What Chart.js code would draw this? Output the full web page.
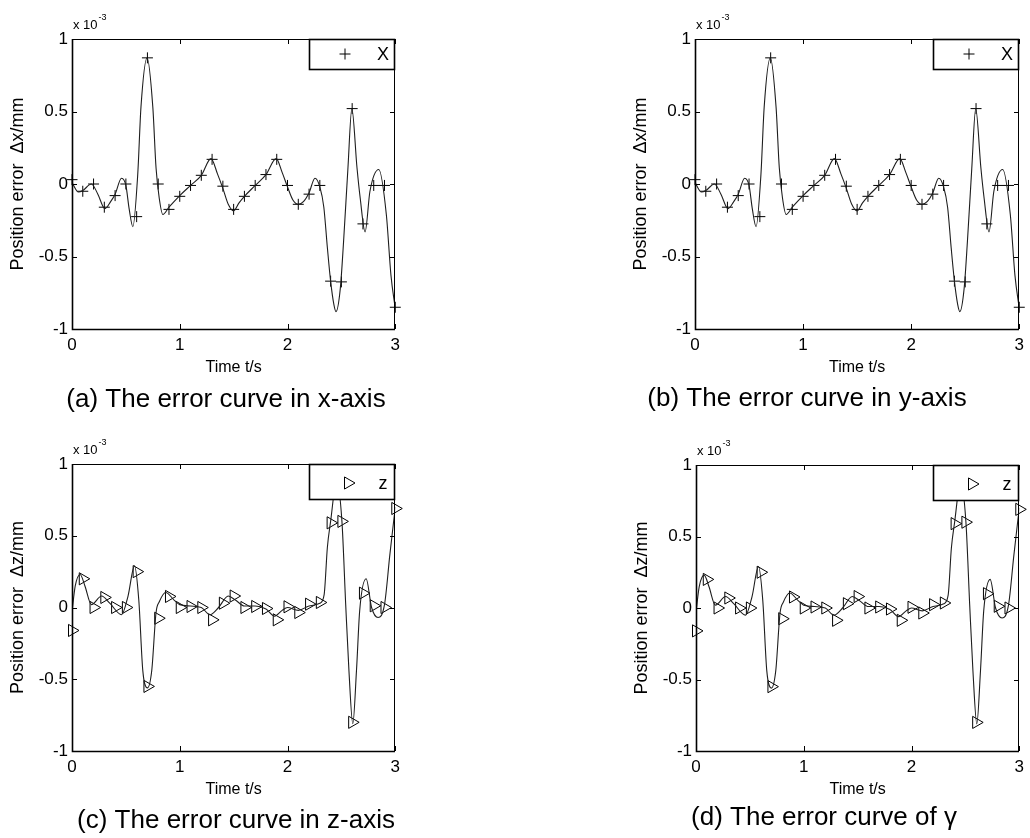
<!DOCTYPE html>
<html><head><meta charset="utf-8">
<script src="https://cdn.jsdelivr.net/npm/chart.js@4.4.1/dist/chart.umd.min.js"></script>
<style>
html,body{margin:0;padding:0;background:#fff;overflow:hidden;width:1030px;height:838px;position:relative;}
canvas{position:absolute;}
</style></head><body>
<canvas id="pa"></canvas><canvas id="pb"></canvas><canvas id="pc"></canvas><canvas id="pd"></canvas>
<script>
// ---- data (values in units of 1e-3 mm) ----
const markerTimes = [0,0.1,0.2,0.3,0.4,0.5,0.6,0.7,0.8,0.9,1.0,1.1,1.2,1.3,1.4,1.5,1.6,1.7,1.8,1.9,2.0,2.1,2.2,2.3,2.4,2.5,2.6,2.7,2.8,2.9,3.0];
const markerX = [0.03,-0.05,0.0,-0.16,-0.08,0.0,-0.225,0.87,0.0,-0.175,-0.085,-0.01,0.06,0.17,-0.015,-0.175,-0.085,-0.01,0.065,0.17,-0.01,-0.14,-0.07,-0.01,-0.67,-0.675,0.52,-0.275,-0.01,-0.01,-0.85];
const markerZ = [-0.16,0.2,0.0,0.07,0.0,0.0,0.25,-0.55,-0.075,0.077,0.0,0.007,0.0,-0.086,0.03,0.08,0.0,0.007,-0.007,-0.086,0.005,-0.035,0.023,0.035,0.59,0.6,-0.8,0.1,0.012,0.0,0.69];

const curveTimesX = [0.00,0.06,0.10,0.18,0.24,0.305,0.36,0.40,0.46,0.50,0.53,0.565,0.61,0.64,0.697,0.75,0.78,0.81,0.843,0.90,1.00,1.10,1.20,1.29,1.35,1.40,1.45,1.50,1.55,1.60,1.70,1.80,1.895,1.95,2.00,2.05,2.10,2.15,2.20,2.255,2.30,2.337,2.37,2.40,2.43,2.45,2.49,2.52,2.56,2.597,2.645,2.675,2.72,2.765,2.847,2.917,2.96,3.00];
const curveX = [0.01,-0.055,-0.045,0.0,-0.07,-0.17,-0.12,-0.07,0.04,-0.01,-0.17,-0.295,0.065,0.53,0.87,0.53,0.11,-0.1,-0.21,-0.16,-0.08,-0.01,0.06,0.175,0.07,-0.03,-0.14,-0.185,-0.13,-0.085,-0.01,0.065,0.175,0.08,-0.02,-0.11,-0.14,-0.12,-0.06,0.04,-0.02,-0.16,-0.44,-0.67,-0.83,-0.88,-0.72,-0.4,0.1,0.52,0.11,-0.1,-0.33,-0.05,0.1,-0.21,-0.63,-0.86];

const curveTimesZ = [0.00,0.03,0.076,0.12,0.18,0.275,0.35,0.46,0.52,0.58,0.62,0.657,0.70,0.74,0.78,0.81,0.87,0.95,1.00,1.10,1.20,1.28,1.36,1.45,1.52,1.60,1.70,1.80,1.88,1.95,2.00,2.10,2.20,2.30,2.34,2.37,2.40,2.455,2.505,2.54,2.57,2.606,2.64,2.67,2.73,2.78,2.84,2.90,2.95,3.00];
const curveZ = [-0.03,0.15,0.23,0.15,0.02,0.08,0.03,-0.05,0.08,0.29,0.05,-0.44,-0.56,-0.44,-0.035,0.04,0.105,0.05,0.02,0.01,0.0,-0.05,0.0,0.08,0.05,0.01,0.01,-0.01,-0.06,-0.02,0.0,-0.02,0.01,0.03,0.09,0.42,0.6,0.88,0.6,0.02,-0.44,-0.81,-0.44,-0.02,0.2,0.0,-0.07,0.02,0.37,0.70];

const xTickValues = [0,1,2,3];
const xTickLabels = ['0','1','2','3'];
const yTickValues = [-1,-0.5,0,0.5,1];
const yTickLabels = ['-1','-0.5','0','0.5','1'];
const captions = ['(a) The error curve in x-axis','(b) The error curve in y-axis','(c) The error curve in z-axis','(d) The error curve of \u03b3'];
const yTitles = ['Position error  \u0394x/mm','Position error  \u0394x/mm','Position error  \u0394z/mm','Position error  \u0394z/mm'];
const legendLabels = ['X','X','z','z'];
const xTitle = 'Time t/s';

// ---- layout ----
const FONT = "'Liberation Sans', Arial, Helvetica, sans-serif";
Chart.defaults.font.family = FONT;
Chart.defaults.color = '#000';

const panels = [
  {id:'pa', L:72,  R:399,  T:39,  B:329, capX:226, capDY:71, t:curveTimesX, v:curveX, m:markerX, style:'cross',    rot:0,  rad:5.5, legH:31, legend:legendLabels[0], yTitle:yTitles[0], caption:captions[0]},
  {id:'pb', L:695, R:1023, T:39,  B:329, capX:807, capDY:70, t:curveTimesX, v:curveX, m:markerX, style:'cross',    rot:0,  rad:5.5, legH:31, legend:legendLabels[1], yTitle:yTitles[1], caption:captions[1]},
  {id:'pc', L:72,  R:399,  T:464, B:751, capX:236, capDY:70, t:curveTimesZ, v:curveZ, m:markerZ, style:'triangle', rot:90, rad:7,   legH:36, legend:legendLabels[2], yTitle:yTitles[2], caption:captions[2]},
  {id:'pd', L:696, R:1023, T:465, B:751, capX:824, capDY:67, t:curveTimesZ, v:curveZ, m:markerZ, style:'triangle', rot:90, rad:7,   legH:36, legend:legendLabels[3], yTitle:yTitles[3], caption:captions[3]},
];

const LEFTW = 72, TOPP = 39, RIGHTP = 7, XH = 50, BOTTOM_EXTRA = 92;

const deco = {
  id:'deco',
  afterDatasetsDraw(chart, args, o) {
    const ctx = chart.ctx, a = chart.chartArea;
    const xs = chart.scales.x, ys = chart.scales.y;
    const L = Math.round(a.left), R = Math.round(a.right), T = Math.round(a.top), B = Math.round(a.bottom);
    ctx.save();
    ctx.strokeStyle = '#000';
    // frame
    ctx.lineWidth = 1;
    ctx.beginPath();
    ctx.moveTo(L, T + 0.5); ctx.lineTo(R, T + 0.5);
    ctx.moveTo(R - 0.5, T); ctx.lineTo(R - 0.5, B);
    ctx.stroke();
    ctx.lineWidth = 1.6;
    ctx.beginPath();
    ctx.moveTo(L + 0.5, T); ctx.lineTo(L + 0.5, B + 0.5);
    ctx.lineTo(R, B + 0.5);
    ctx.stroke();
    // inward ticks
    ctx.lineWidth = 1;
    ctx.beginPath();
    yTickValues.forEach(v => {
      const y = Math.round(ys.getPixelForValue(v)) + 0.5;
      ctx.moveTo(L, y); ctx.lineTo(L + 5, y);
      ctx.moveTo(R, y); ctx.lineTo(R - 5, y);
    });
    xTickValues.forEach(v => {
      const x = Math.round(xs.getPixelForValue(v)) + 0.5;
      ctx.moveTo(x, B); ctx.lineTo(x, B - 5);
      ctx.moveTo(x, T); ctx.lineTo(x, T + 5);
    });
    ctx.stroke();
    // legend box
    const lw = 86, lh = o.legH;
    ctx.fillStyle = '#fff';
    ctx.fillRect(R - lw, T, lw, lh);
    ctx.lineWidth = 1.6;
    ctx.strokeRect(R - lw + 0.5, T + 0.5, lw - 1, lh - 1);
    ctx.lineWidth = 1;
    ctx.fillStyle = 'rgba(0,0,0,0)';
    const my = T + (o.style === 'cross' ? 15 : 19);
    Chart.helpers.drawPoint(ctx, {pointStyle:o.style, rotation:o.rot, radius:o.rad, borderWidth:1}, R - (o.style === 'cross' ? 50 : 47), my);
    ctx.fillStyle = '#000';
    ctx.font = '18px ' + FONT;
    ctx.textAlign = 'center';
    ctx.textBaseline = 'middle';
    ctx.fillText(o.legend, R - 12, my + 1);
    // exponent
    ctx.textAlign = 'left';
    ctx.textBaseline = 'alphabetic';
    ctx.font = '13px ' + FONT;
    const base = 'x 10';
    ctx.fillText(base, L + 1, T - 10);
    const w = ctx.measureText(base).width;
    ctx.font = '9px ' + FONT;
    ctx.fillText('-3', L + 2 + w, T - 19);
    // caption
    ctx.font = '26px ' + FONT;
    ctx.textAlign = 'center';
    ctx.textBaseline = 'middle';
    ctx.fillText(o.caption, o.capX, B + o.capDY);
    ctx.restore();
  }
};

panels.forEach(p => {
  const cv = document.getElementById(p.id);
  const cl = p.L - LEFTW, ct = p.T - TOPP;
  const W = p.R + RIGHTP - cl;
  const H = (p.B - ct) + BOTTOM_EXTRA;
  cv.width = W; cv.height = H;
  cv.style.left = cl + 'px'; cv.style.top = ct + 'px';
  cv.style.width = W + 'px'; cv.style.height = H + 'px';

  new Chart(cv, {
    type:'line',
    data:{
      datasets:[
        {
          data:p.t.map((t,i) => ({x:t, y:p.v[i]})),
          borderColor:'#1e1e1e', borderWidth:1.1, pointRadius:0,
          cubicInterpolationMode:'monotone', fill:false
        },
        {
          data:markerTimes.map((t,i) => ({x:t, y:p.m[i]})),
          showLine:false, pointStyle:p.style, pointRotation:p.rot, pointRadius:p.rad,
          pointBorderColor:'#000', pointBackgroundColor:'rgba(0,0,0,0)', pointBorderWidth:1,
          clip:false
        }
      ]
    },
    options:{
      responsive:false, animation:false, devicePixelRatio:1,
      layout:{padding:{left:0, top:TOPP, right:RIGHTP, bottom:BOTTOM_EXTRA - XH}},
      events:[],
      plugins:{
        legend:{display:false}, tooltip:{enabled:false},
        deco:{style:p.style, rot:p.rot, rad:p.rad, legH:p.legH, legend:p.legend, caption:p.caption, capX:p.capX - cl, capDY:p.capDY}
      },
      scales:{
        x:{
          type:'linear', min:0, max:3, position:'bottom',
          afterFit(s){ s.height = XH; },
          afterBuildTicks(s){ s.ticks = xTickValues.map(v => ({value:v})); },
          ticks:{padding:6, color:'#000', font:{size:17}, maxRotation:0, autoSkip:false,
                 callback:(v) => { const i = xTickValues.indexOf(v); return i >= 0 ? xTickLabels[i] : ''; }},
          grid:{display:false, drawTicks:false}, border:{display:false},
          title:{display:true, text:xTitle, color:'#000', font:{size:16}, padding:{top:0, bottom:2}}
        },
        y:{
          type:'linear', min:-1, max:1, position:'left',
          afterFit(s){ s.width = LEFTW; },
          afterBuildTicks(s){ s.ticks = yTickValues.map(v => ({value:v})); },
          ticks:{padding:4, color:'#000', font:{size:17}, autoSkip:false,
                 callback:(v) => { const i = yTickValues.indexOf(v); return i >= 0 ? yTickLabels[i] : ''; }},
          grid:{display:false, drawTicks:false}, border:{display:false},
          title:{display:true, text:p.yTitle, color:'#000', font:{size:18}, padding:{top:7, bottom:0}}
        }
      }
    },
    plugins:[deco]
  });
});
</script>
</body></html>
